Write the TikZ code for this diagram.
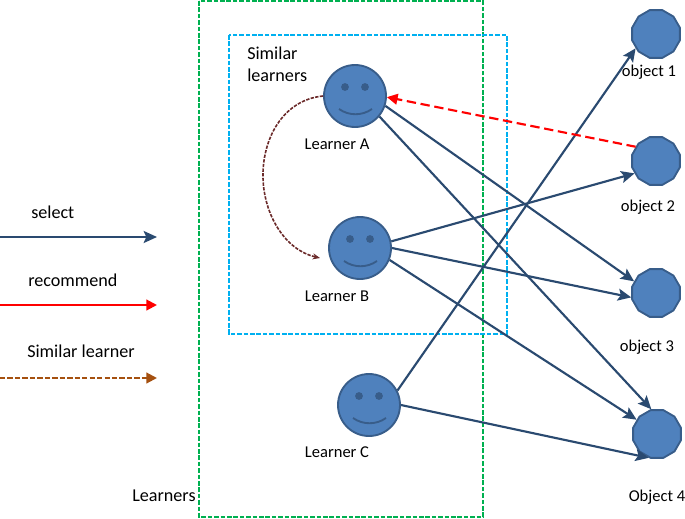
\documentclass[tikz,border=0pt]{standalone}
\usepackage{fontspec}
\setmainfont{Carlito}
\usetikzlibrary{shapes.geometric,arrows.meta}
\definecolor{navy}{HTML}{2A4A70}
\definecolor{shapefill}{HTML}{4F81BD}
\definecolor{shapeedge}{HTML}{385D8A}
\definecolor{groupgreen}{HTML}{00B050}
\definecolor{groupblue}{HTML}{00B0F0}
\definecolor{similarbrown}{HTML}{A5500F}
\definecolor{curvebrown}{HTML}{6B2A2A}
\tikzset{
  facenode/.style={circle,draw=shapeedge,fill=shapefill,line width=1.4pt,minimum size=46.5pt,inner sep=0pt},
  objectnode/.style={regular polygon,regular polygon sides=12,draw=shapeedge,fill=shapefill,line width=1.4pt,minimum size=37pt,inner sep=0pt},
  label/.style={inner sep=0pt,font=\fontsize{13.6}{15}\selectfont},
  smalllabel/.style={inner sep=0pt,font=\fontsize{12.4}{14}\selectfont},
  selectline/.style={navy,line width=1.6pt,-{Stealth[length=10pt,width=9pt,inset=2pt]}},
  recommendline/.style={red,line width=1.6pt,-{Triangle[length=8pt,width=8pt]}},
  similarline/.style={similarbrown,line width=1.6pt,dash pattern=on 4pt off 1.6pt,-{Triangle[length=8pt,width=8pt]}},
  groupbox/.style={line width=1.5pt,dash pattern=on 3.5pt off 1.3pt},
  feature/.style={shapeedge,line width=1.4pt}
}
% Eyes and mouth of a learner, placed relative to its circle
\newcommand{\facedetails}[1]{
  \fill[shapeedge] (#1)++(-10,-9) circle[radius=3.9];
  \fill[shapeedge] (#1)++(10,-9) circle[radius=3.9];
  \draw[feature] (#1)++(-16,13) .. controls +(10,7) and +(-10,7) .. +(33,0);
}
\begin{document}
\begin{tikzpicture}[x=0.75pt,y=-0.75pt]
\useasboundingbox (0,0) rectangle (685,518);

% Group frames
\draw[groupbox,groupgreen] (199,1) rectangle (483,517);
\draw[groupbox,groupblue] (229,35) rectangle (507,334);

% Learners
\node[facenode] (a) at (355,96) {};
\node[facenode] (b) at (360,248) {};
\node[facenode] (c) at (369,405) {};
\facedetails{a}
\facedetails{b}
\facedetails{c}

% Objects
\node[objectnode] (o1) at (656,34) {};
\node[objectnode] (o2) at (656,161) {};
\node[objectnode] (o3) at (656,293) {};
\node[objectnode] (o4) at (657,434) {};

% Text
\node[label,anchor=west] (simlab) at (247,53) {Similar};
\node[label,anchor=west] (simlab2) at (247,75) {learners};
\node[smalllabel] (la) at (337,144) {Learner A};
\node[smalllabel] (lb) at (337,296) {Learner B};
\node[smalllabel] (lc) at (337,452) {Learner C};
\node[label,anchor=west] (groupname) at (132,496) {Learners};
\node[smalllabel] (t1) at (649,72) {object 1};
\node[smalllabel] (t2) at (648,207) {object 2};
\node[smalllabel] (t3) at (647,347) {object 3};
\node[smalllabel] (t4) at (657,497) {Object 4};

% Legend
\coordinate (s0) at (0,237);
\coordinate (s1) at (157,237);
\coordinate (r0) at (0,305);
\coordinate (r1) at (157,305);
\coordinate (m0) at (0,378);
\coordinate (m1) at (157,378);
\node[label,anchor=west] (ls) at (31,212) {select};
\node[label,anchor=west] (lr) at (28,280) {recommend};
\node[label,anchor=west] (lm) at (27,351) {Similar learner};
\draw[selectline] (s0) -- (s1);
\draw[recommendline] (r0) -- (r1);
\draw[similarline] (m0) -- (m1);

% Selections
\draw[selectline] (a.-18) -- (o3.152);
\draw[selectline] (a.-40) -- (o4.103);
\draw[selectline] (b.12) -- (o2.210);
\draw[selectline] (b.0) -- (o3.190);
\draw[selectline] (b.-22) -- (o4.145);
\draw[selectline] (c.27) -- (o1.215);
\draw[selectline] (c.0) -- (o4.251);

% Recommendation and similarity
\coordinate (simend) at (320,258);
\draw[red,line width=1.6pt,dash pattern=on 7pt off 3.5pt,-{Triangle[length=8pt,width=8pt]}] (o2.145) -- (a.-2);
\draw[curvebrown,line width=1.2pt,dash pattern=on 2.5pt off 1pt,-{Stealth[length=5.5pt,width=4.5pt]}]
  (a.180) .. controls (282,100) and (262,140) .. (263,178) .. controls (264,215) and (285,250) .. (simend);
\end{tikzpicture}
\end{document}
